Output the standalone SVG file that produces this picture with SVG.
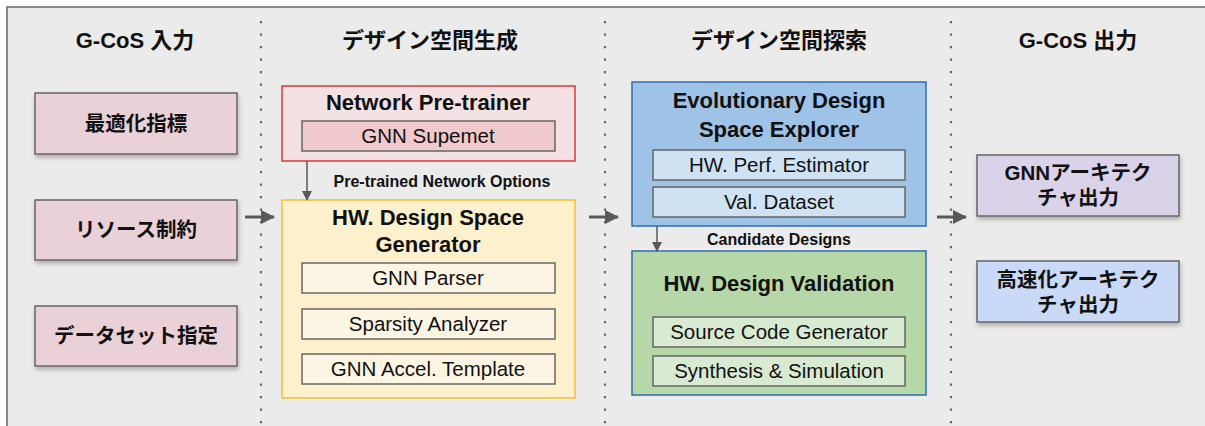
<svg xmlns="http://www.w3.org/2000/svg" width="1205" height="426" viewBox="0 0 1205 426">
<defs>
<marker id="ah" markerWidth="10" markerHeight="10" refX="9" refY="5" orient="auto" markerUnits="userSpaceOnUse" viewBox="0 0 10 10">
<path d="M0,0 L10,5 L0,10 Z" fill="#595959"/>
</marker>
<marker id="ahb" markerWidth="14" markerHeight="14" refX="13" refY="7" orient="auto" markerUnits="userSpaceOnUse" viewBox="0 0 14 14">
<path d="M0,0 L14,7 L0,14 Z" fill="#595959"/>
</marker>
<filter id="sh" x="-10%" y="-20%" width="120%" height="150%">
<feDropShadow dx="1" dy="3" stdDeviation="2" flood-color="#000" flood-opacity="0.25"/>
</filter>
</defs>
<style>
text{font-family:"Liberation Sans","Noto Sans CJK JP",sans-serif;fill:#111;text-anchor:middle}
.hd{font-size:22px;font-weight:bold}
.tt{font-size:22px;font-weight:bold}
.lb{font-size:16px;font-weight:bold}
.in{font-size:20.5px}
.jb{font-size:20.5px;font-weight:bold}
.sub{stroke:#666;stroke-width:1.5}
.dot{stroke:#666;stroke-width:2.2;stroke-dasharray:2.2 10.3;fill:none}
.con{stroke:#595959;stroke-width:1.5;fill:none}
.conb{stroke:#595959;stroke-width:3;fill:none}
</style>
<rect x="7" y="7" width="1210" height="430" fill="#ebebeb" stroke="#666" stroke-width="1.5"/>
<g id="dividers">
<line class="dot" x1="261" y1="21" x2="261" y2="426"/>
<line class="dot" x1="605" y1="21" x2="605" y2="426"/>
<line class="dot" x1="951" y1="21" x2="951" y2="426"/>
</g>
<g id="headers">
<text class="hd" x="135" y="48">G-CoS 入力</text>
<text class="hd" x="430" y="48">デザイン空間生成</text>
<text class="hd" x="779" y="48">デザイン空間探索</text>
<text class="hd" x="1078" y="48">G-CoS 出力</text>
</g>
<g id="in-opt">
<rect x="35" y="93" width="202" height="61" fill="#ead1d8" stroke="#666" stroke-width="1.5" filter="url(#sh)"/>
<text class="jb" x="136" y="131">最適化指標</text>
</g>
<g id="in-res">
<rect x="35" y="200" width="202" height="60" fill="#ead1d8" stroke="#666" stroke-width="1.5" filter="url(#sh)"/>
<text class="jb" x="136" y="237">リソース制約</text>
</g>
<g id="in-data">
<rect x="35" y="306" width="202" height="60" fill="#ead1d8" stroke="#666" stroke-width="1.5" filter="url(#sh)"/>
<text class="jb" x="136" y="343">データセット指定</text>
</g>
<g id="pretrainer">
<rect x="282" y="86" width="293" height="75" fill="#f4e1e3" stroke="#d93a3a" stroke-width="1.5"/>
<text class="tt" x="428" y="110">Network Pre-trainer</text>
<rect class="sub" x="302" y="121" width="253" height="30" fill="#f0c9cc"/>
<text class="in" x="428" y="143">GNN Supemet</text>
</g>
<g id="generator">
<rect x="282" y="200" width="293" height="198" fill="#fdf0cd" stroke="#f1c232" stroke-width="1.5"/>
<text class="tt" x="428" y="225">HW. Design Space</text>
<text class="tt" x="428" y="252">Generator</text>
<rect class="sub" x="302" y="263" width="253" height="30" fill="#fcf5e4"/>
<text class="in" x="428" y="285">GNN Parser</text>
<rect class="sub" x="302" y="309" width="253" height="30" fill="#fcf5e4"/>
<text class="in" x="428" y="331">Sparsity Analyzer</text>
<rect class="sub" x="302" y="354" width="253" height="30" fill="#fcf5e4"/>
<text class="in" x="428" y="376">GNN Accel. Template</text>
</g>
<g id="explorer">
<rect x="632" y="82" width="294" height="144" fill="#9fc3e6" stroke="#2f6db3" stroke-width="1.5"/>
<text class="tt" x="779" y="108">Evolutionary Design</text>
<text class="tt" x="779" y="137">Space Explorer</text>
<rect class="sub" x="653" y="150" width="252" height="30" fill="#cfe2f3"/>
<text class="in" x="779" y="172">HW. Perf. Estimator</text>
<rect class="sub" x="653" y="187" width="252" height="30" fill="#cfe2f3"/>
<text class="in" x="779" y="209">Val. Dataset</text>
</g>
<g id="validation">
<rect x="632" y="251" width="294" height="144" fill="#b6d7a8" stroke="#2f6db3" stroke-width="1.5"/>
<text class="tt" x="779" y="291">HW. Design Validation</text>
<rect class="sub" x="653" y="317" width="252" height="30" fill="#d9ead3"/>
<text class="in" x="779" y="339">Source Code Generator</text>
<rect class="sub" x="653" y="356" width="252" height="30" fill="#d9ead3"/>
<text class="in" x="779" y="378">Synthesis &amp; Simulation</text>
</g>
<g id="out-gnn">
<rect x="977" y="155" width="202" height="61" fill="#d9d2e9" stroke="#666" stroke-width="1.5" filter="url(#sh)"/>
<text class="jb" x="1078" y="180">GNNアーキテク</text>
<text class="jb" x="1078" y="205">チャ出力</text>
</g>
<g id="out-acc">
<rect x="977" y="261" width="202" height="61" fill="#c9daf8" stroke="#666" stroke-width="1.5" filter="url(#sh)"/>
<text class="jb" x="1078" y="287">高速化アーキテク</text>
<text class="jb" x="1078" y="312">チャ出力</text>
</g>
<g id="connectors">
<line class="conb" x1="245" y1="217" x2="274" y2="217" marker-end="url(#ahb)"/>
<line class="conb" x1="589" y1="217" x2="618" y2="217" marker-end="url(#ahb)"/>
<line class="conb" x1="937" y1="217" x2="966" y2="217" marker-end="url(#ahb)"/>
<line class="con" x1="307" y1="161" x2="307" y2="200" marker-end="url(#ah)"/>
<text class="lb" x="442" y="187">Pre-trained Network Options</text>
<line class="con" x1="657" y1="226" x2="657" y2="251" marker-end="url(#ah)"/>
<text class="lb" x="779" y="245">Candidate Designs</text>
</g>
</svg>
